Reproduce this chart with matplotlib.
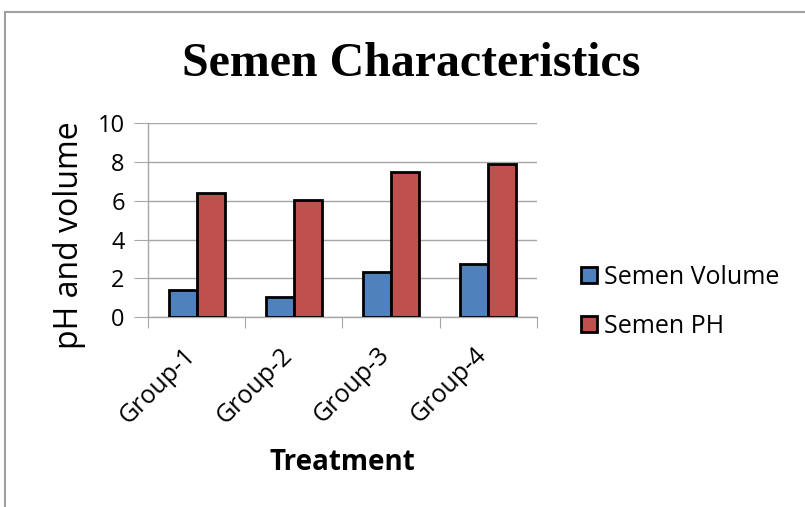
import matplotlib.pyplot as plt
import numpy as np
from matplotlib.lines import Line2D
from matplotlib.transforms import ScaledTranslation

groups = ["Group-1", "Group-2", "Group-3", "Group-4"]
semen_volume = [1.41, 1.06, 2.33, 2.75]
semen_ph = [6.42, 6.05, 7.49, 7.89]
yticks = [0, 2, 4, 6, 8, 10]

fig = plt.figure(figsize=(8.05, 5.07), dpi=100)
ax = fig.add_axes([0.1842, 0.3742, 0.4825, 0.3826])

x = np.arange(len(groups))
w = 0.29
ax.bar(x - w / 2, semen_volume, w, color='#4F81BD', edgecolor='black', linewidth=2, label='Semen Volume', zorder=3)
ax.bar(x + w / 2, semen_ph, w, color='#C0504D', edgecolor='black', linewidth=2, label='Semen PH', zorder=3)

ax.set_xlim(-0.5, 3.5)
ax.set_ylim(0, 10)
ax.set_yticks(yticks)
ax.set_yticklabels([str(t) for t in yticks], fontsize=17, family='Open Sans')
ax.yaxis.grid(True, color='#A6A6A6', linewidth=1, zorder=0)
ax.tick_params(axis='y', length=10, color='#A6A6A6', pad=7)

ax.set_xticks([-0.5, 0.5, 1.5, 2.5, 3.5])
ax.set_xticklabels([])
ax.set_xticks(x, minor=True)
ax.set_xticklabels(groups, minor=True, rotation=45, ha='right', va='top', rotation_mode='anchor',
                   fontsize=18, family='Open Sans')
ax.tick_params(axis='x', which='major', length=8, color='#A6A6A6')
ax.tick_params(axis='x', which='minor', length=0, pad=14)
shift = ScaledTranslation(-14 / 100, -6 / 100, fig.dpi_scale_trans)
for lbl in ax.get_xticklabels(minor=True):
    lbl.set_transform(lbl.get_transform() + shift)

for s in ['top', 'right']:
    ax.spines[s].set_visible(False)
for s in ['left', 'bottom']:
    ax.spines[s].set_color('#A6A6A6')
    ax.spines[s].set_linewidth(1)

fig.text(411.5 / 805, 1 - 64 / 507, 'Semen Characteristics', ha='center', va='center',
         fontsize=34.5, fontweight='bold', family='Liberation Serif')
fig.text(69 / 805, 1 - 235 / 507, 'pH and volume', ha='center', va='center', rotation=90,
         fontsize=23, family='Open Sans')
fig.text(342.5 / 805, 1 - 463 / 507, 'Treatment', ha='center', va='center',
         fontsize=20, fontweight='bold', family='Open Sans')

leg = ax.legend(loc='center left', bbox_to_anchor=(1.055, 0.08), frameon=False,
                prop={'family': 'Open Sans', 'size': 18}, handlelength=0.65, handleheight=0.65,
                handletextpad=0.3, labelspacing=0.95)

# chart border (Excel style frame, cut at right/bottom)
fig.add_artist(Line2D([5 / 805, 1.0], [1 - 12 / 507, 1 - 12 / 507], color='#A0A0A0', linewidth=1.5))
fig.add_artist(Line2D([5 / 805, 5 / 805], [0, 1 - 12 / 507], color='#A0A0A0', linewidth=1.5))

plt.savefig('out.png', dpi=100)
